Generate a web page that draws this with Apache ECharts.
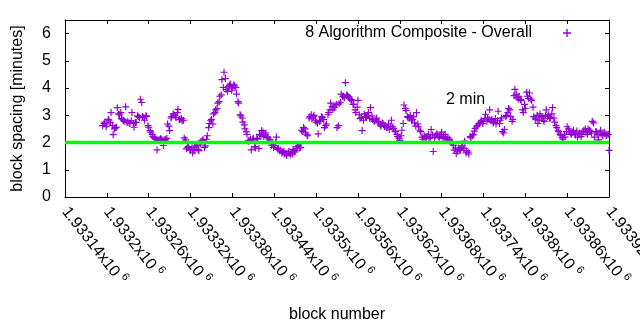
<!DOCTYPE html>
<html><head><meta charset="utf-8">
<script src="https://cdn.jsdelivr.net/npm/echarts@6/dist/echarts.min.js"></script>
<style>html,body{margin:0;padding:0;background:#fff}#c{width:640px;height:330px}</style>
</head><body><div id="c"></div>
<script>
const seriesName = '8 Algorithm Composite - Overall';
const xAxisTitle = 'block number';
const yAxisTitle = 'block spacing [minutes]';
const annotationText = '2 min';
const blockStart = 1933194;
const blockStep = 3;
const spacing = [
  2.62, 2.75, 2.68, 2.82, 3.10, 2.29, 2.55, 3.28, 3.02, 2.88,
  2.80, 3.31, 2.76, 2.70, 3.10, 2.56, 2.74, 2.95, 3.59, 2.96,
  2.82, 2.96, 2.56, 2.38, 2.22, 2.15, 1.73, 2.10, 2.12, 1.89,
  2.10, 2.68, 2.44, 2.95, 3.02, 2.92, 3.22, 2.85, 2.80, 2.17,
  1.77, 1.85, 1.72, 1.62, 1.83, 1.90, 1.70, 2.05, 2.10, 1.88,
  2.25, 2.70, 2.85, 3.05, 3.20, 3.45, 3.70, 4.31, 4.58, 3.95,
  4.05, 4.15, 4.00, 4.08, 3.78, 3.45, 2.98, 2.75, 2.50, 2.30,
  2.08, 1.73, 2.15, 1.80, 2.12, 2.30, 2.44, 2.22, 2.35, 2.18,
  2.10, 1.95, 1.88, 2.20, 1.78, 1.72, 1.65, 1.58, 1.52, 1.68,
  1.62, 1.75, 1.70, 1.85, 1.80, 2.45, 2.55, 2.35, 2.25, 2.95,
  2.88, 3.00, 2.75, 2.32, 2.80, 2.92, 2.55, 2.68, 3.10, 3.45,
  3.20, 3.35, 2.55, 3.42, 3.78, 3.70, 4.20, 3.72, 3.62, 3.55,
  3.40, 3.10, 3.55, 2.88, 2.44, 3.05, 2.92, 3.10, 3.28, 2.85,
  2.78, 2.90, 2.72, 2.60, 2.70, 2.62, 2.55, 2.48, 2.82, 2.52,
  2.40, 2.22, 2.08, 2.45, 3.38, 3.18, 2.92, 3.00, 2.85, 2.72,
  3.10, 2.58, 2.40, 2.12, 2.20, 2.22, 2.15, 2.48, 1.67, 2.25,
  2.28, 2.20, 2.38, 2.22, 2.15, 2.18, 2.05, 1.98, 1.72, 1.60,
  1.80, 1.72, 1.88, 2.05, 1.70, 1.58, 2.18, 2.30, 2.52, 2.62,
  2.70, 2.82, 2.78, 3.04, 2.90, 3.20, 2.85, 2.75, 2.68, 3.15,
  2.82, 2.40, 2.48, 3.00, 3.25, 2.95, 2.85, 3.95, 3.65, 3.70,
  3.55, 3.10, 3.25, 3.70, 3.82, 3.55, 2.95, 2.85, 2.70, 3.05,
  2.90, 2.78, 3.20, 3.02, 2.92, 3.28, 2.75, 2.55, 2.40, 2.25,
  2.12, 2.20, 2.58, 2.40, 2.30, 2.45, 2.28, 2.20, 2.35, 2.30,
  2.45, 2.38, 2.50, 2.42, 2.78, 2.20, 2.40, 2.10, 2.45, 2.25, 2.32, 2.28, 1.71
];
const blockStart2 = 1933196;
const spacing2 = [
  2.70, 2.58, 2.85, 2.74, 2.62, 2.50, 2.56, 3.05, 3.10, 2.84,
  2.78, 2.74, 2.72, 2.80, 2.70, 2.74, 2.98, 2.92, 3.47, 2.92,
  2.98, 2.62, 2.44, 2.30, 2.18, 2.12, 2.08, 2.14, 2.08, 2.10,
  2.15, 2.60, 2.90, 3.05, 2.98, 3.10, 2.84, 2.88, 2.82, 2.10,
  1.82, 1.75, 1.80, 1.70, 1.88, 1.74, 1.95, 2.08, 1.82, 2.12,
  2.55, 2.80, 2.68, 3.10, 3.25, 3.50, 3.75, 4.02, 4.35, 3.88,
  4.10, 3.92, 4.12, 4.02, 3.50, 3.02, 2.90, 2.65, 2.40, 2.05,
  2.12, 2.10, 1.85, 2.15, 1.78, 2.25, 2.38, 2.28, 2.20, 2.12,
  1.90, 1.82, 2.00, 1.75, 1.70, 1.62, 1.68, 1.60, 1.62, 1.55,
  1.58, 1.65, 1.78, 1.90, 1.82, 2.40, 2.50, 2.28, 2.90, 3.02,
  2.95, 2.82, 2.72, 2.78, 2.95, 2.85, 2.62, 3.02, 3.20, 3.32,
  3.28, 3.40, 2.62, 3.48, 3.70, 3.65, 3.75, 3.68, 3.58, 3.40,
  3.20, 3.30, 3.02, 2.92, 2.82, 2.95, 3.00, 2.88, 2.98, 2.80,
  2.85, 2.78, 2.65, 2.72, 2.58, 2.55, 2.68, 2.60, 2.58, 2.42,
  2.30, 2.15, 2.25, 2.70, 3.25, 2.95, 2.90, 2.80, 2.95, 2.60,
  2.68, 2.45, 2.20, 2.25, 2.15, 2.30, 2.20, 2.28, 2.18, 2.32,
  2.20, 2.28, 2.15, 2.30, 2.10, 2.12, 2.02, 1.90, 1.80, 1.68,
  1.75, 1.82, 1.78, 1.62, 1.65, 2.22, 2.25, 2.42, 2.58, 2.68,
  2.75, 2.70, 2.88, 2.78, 2.85, 2.80, 2.72, 2.88, 2.80, 2.70,
  2.90, 2.35, 2.95, 3.10, 3.20, 2.78, 3.72, 3.78, 3.60, 3.58,
  3.20, 3.40, 3.85, 3.62, 3.60, 3.30, 2.90, 3.00, 2.82, 2.95,
  2.82, 3.00, 2.95, 2.88, 3.05, 2.90, 2.62, 2.45, 2.30, 2.18,
  2.30, 2.40, 2.50, 2.35, 2.38, 2.32, 2.42, 2.30, 2.22, 2.40,
  2.50, 2.30, 2.45, 2.35, 2.72, 2.40, 2.28, 2.35, 2.30, 2.38, 2.25, 2.30
];
const xMin = 1933140, xMax = 1933920, xInterval = 60;
const yMin = 0, yMax = 6.5, yInterval = 1;
const targetMinutes = 2;

const FONT = 'Liberation Sans, Arial, sans-serif';
const FS = 16;
const PURPLE = '#9400d3';
const PLUS = 'path://M5,0 H7 V5 H12 V7 H7 V12 H5 V7 H0 V5 H5 Z';

const points = spacing.map((v, i) => [blockStart + i * blockStep, v])
  .concat(spacing2.map((v, i) => [blockStart2 + i * blockStep, v]));
const target = [[xMin, targetMinutes], [xMax, targetMinutes]];

function xLabel(v) {
  const s = (v / 1e6).toFixed(5).replace(/0+$/, '').replace(/\.$/, '');
  return '{a|' + s + 'x10}{b|6}';
}

const chart = echarts.init(document.getElementById('c'), null, {renderer: 'canvas'});
const axisCommon = {
  axisLine: {show: true, onZero: false, lineStyle: {color: '#000', width: 1}},
  axisTick: {show: true, inside: true, length: 4, lineStyle: {color: '#000', width: 1}},
  splitLine: {show: false}
};
chart.setOption({
  animation: false,
  backgroundColor: '#fff',
  textStyle: {fontFamily: FONT},
  grid: {left: 65, right: 31, top: 20, bottom: 133, containLabel: false, outerBoundsMode: 'none'},
  legend: {
    data: [{name: seriesName, icon: PLUS}],
    right: 64, top: 20, align: 'right',
    itemWidth: 8, itemHeight: 8,
    textStyle: {fontSize: FS, color: '#000', fontFamily: FONT, padding: [0, 26, 0, 0]},
    selectedMode: false
  },
  xAxis: [
    Object.assign({
      type: 'value', min: xMin, max: xMax, interval: xInterval, position: 'bottom',
      name: xAxisTitle, nameLocation: 'middle', nameGap: 110,
      nameTextStyle: {fontSize: FS, color: '#000', fontFamily: FONT},
      axisLabel: {
        show: true, rotate: -52, margin: 12, color: '#000', formatter: xLabel,
        hideOverlap: false,
        rich: {
          a: {fontSize: FS, fontFamily: FONT, color: '#000', lineHeight: 22},
          b: {fontSize: 11, fontFamily: FONT, color: '#000', lineHeight: 12, verticalAlign: 'top', padding: [0, 0, 0, 4]}
        }
      }
    }, axisCommon),
    Object.assign({
      type: 'value', min: xMin, max: xMax, interval: xInterval, position: 'top',
      axisLabel: {show: false}
    }, axisCommon)
  ],
  yAxis: [
    Object.assign({
      type: 'value', min: yMin, max: yMax, interval: yInterval, position: 'left',
      name: yAxisTitle, nameLocation: 'middle', nameGap: 39, nameRotate: 90,
      nameTextStyle: {fontSize: FS, color: '#000', fontFamily: FONT},
      axisLabel: {show: true, margin: 14, color: '#000', fontSize: FS, fontFamily: FONT, showMaxLabel: false}
    }, axisCommon),
    Object.assign({
      type: 'value', min: yMin, max: yMax, interval: yInterval, position: 'right',
      axisLabel: {show: false}
    }, axisCommon)
  ],
  series: [
    {
      name: seriesName, type: 'scatter', data: points,
      symbol: PLUS, symbolSize: 7,
      itemStyle: {color: PURPLE, opacity: 1},
      z: 2
    },
    {
      name: 'target', type: 'line', data: target,
      showSymbol: false, symbol: 'none',
      lineStyle: {color: '#00ff00', width: 3.5},
      z: 3, silent: true
    }
  ],
  graphic: [{
    type: 'text', left: 446, top: 92,
    style: {text: annotationText, fontSize: FS, fontFamily: FONT, fill: '#000'}
  }]
});
</script></body></html>
